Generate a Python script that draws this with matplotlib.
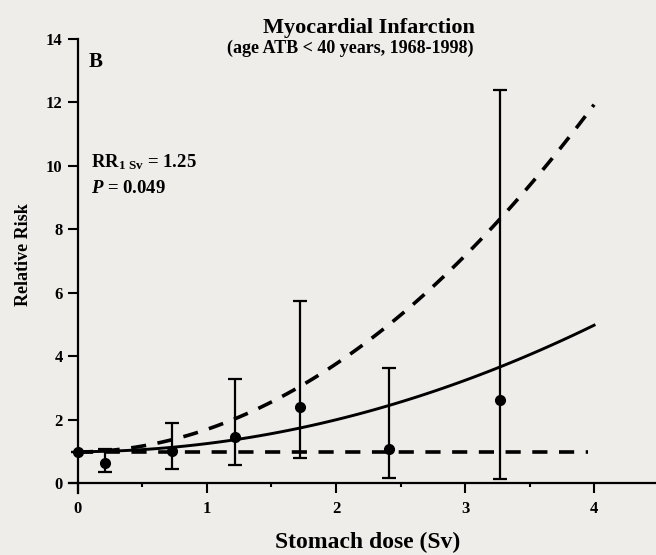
import numpy as np
import matplotlib
matplotlib.use("Agg")
import matplotlib.pyplot as plt

dose = [0.0, 0.21, 0.73, 1.22, 1.72, 2.41, 3.27]
rr = [1.0, 0.65, 1.02, 1.47, 2.40, 1.09, 2.62]
rr_lo = [1.0, 0.36, 0.46, 0.57, 0.81, 0.18, 0.13]
rr_hi = [1.0, 1.09, 1.91, 3.30, 5.73, 3.64, 12.39]

# fitted curve and confidence band (sampled off the figure)
fit_dose = [0.0, 0.5, 1.0, 1.5, 2.0, 2.5, 3.0, 3.5, 4.0]
fit_rr = [1.0, 1.06, 1.25, 1.56, 2.0, 2.56, 3.25, 4.06, 4.97]
fit_upper = [1.0, 1.17, 1.69, 2.55, 3.75, 5.3, 7.2, 9.4, 11.9]
fit_lower_dose = [0.0, 3.95]
fit_lower = [1.0, 1.0]

BG = "#eeede9"
plt.rcParams["font.family"] = ["Liberation Serif", "DejaVu Serif"]
plt.rcParams["font.weight"] = "bold"
plt.rcParams["mathtext.fontset"] = "custom"
plt.rcParams["mathtext.rm"] = "Liberation Serif:bold"
plt.rcParams["mathtext.it"] = "Liberation Serif:italic:bold"

fig = plt.figure(figsize=(6.56, 5.55), dpi=100, facecolor=BG)
ax = fig.add_axes([0.105, 0.112, 0.895, 0.818])
ax.set_facecolor(BG)

# the sampled curves are smooth quadratics in the figure; draw them smoothly
xs = np.linspace(0, 4, 100)
ax.plot(xs, np.polyval(np.polyfit(fit_dose, fit_rr, 2), xs), color="black", lw=2.1, zorder=3)
ax.plot(xs, np.polyval(np.polyfit(fit_dose, fit_upper, 2), xs), color="black", lw=2.6,
        dashes=(4.2, 3.2), zorder=3)
ax.plot(fit_lower_dose, fit_lower, color="black", lw=2.6, dashes=(4.2, 3.2), zorder=3)

yerr = [np.array(rr) - np.array(rr_lo), np.array(rr_hi) - np.array(rr)]
ax.errorbar(dose, rr, yerr=yerr, fmt="o", color="black", ms=7, capsize=5,
            elinewidth=1.6, capthick=1.6, zorder=4)

ax.set_xlim(-0.07, 4.48)
ax.set_ylim(-0.3, 14)
ax.spines["left"].set_position(("data", 0))
ax.spines["bottom"].set_position(("data", 0))
ax.spines["right"].set_visible(False)
ax.spines["top"].set_visible(False)
ax.spines["left"].set_linewidth(1.6)
ax.spines["bottom"].set_linewidth(1.6)

ax.set_xticks([0, 1, 2, 3, 4])
ax.set_xticks([0.5, 1.5, 2.5, 3.5], minor=True)
ax.set_yticks(range(0, 15, 2))
ax.tick_params(axis="both", which="major", length=7, width=1.5, labelsize=12, pad=4)
ax.tick_params(axis="x", which="minor", length=3, width=1.5)
ax.tick_params(axis="x", pad=6)
for lab in ax.get_xticklabels() + ax.get_yticklabels():
    lab.set_fontweight("bold")

fig.text(0.5625, 0.9405, "Myocardial Infarction", ha="center", va="baseline",
         fontsize=16, fontweight="bold")
fig.text(0.5335, 0.904, "(age ATB < 40 years, 1968-1998)", ha="center", va="baseline",
         fontsize=13, fontweight="bold")
fig.text(0.561, 0.0126, "Stomach dose (Sv)", ha="center", va="baseline",
         fontsize=17, fontweight="bold")
fig.text(0.036, 0.542, "Relative Risk", ha="center", va="center", rotation=90,
         fontsize=13, fontweight="bold")

ax.text(0.08, 13.12, "B", fontsize=15, fontweight="bold", va="baseline")
ax.text(0.1, 9.94, r"RR$_{\mathregular{1\ Sv}}$ = 1.25", fontsize=13.5, fontweight="bold",
        va="baseline")
ax.text(0.1, 9.15, r"$P$ = 0.049", fontsize=13.5, fontweight="bold", va="baseline")

fig.savefig("out.png", dpi=100, facecolor=BG)
